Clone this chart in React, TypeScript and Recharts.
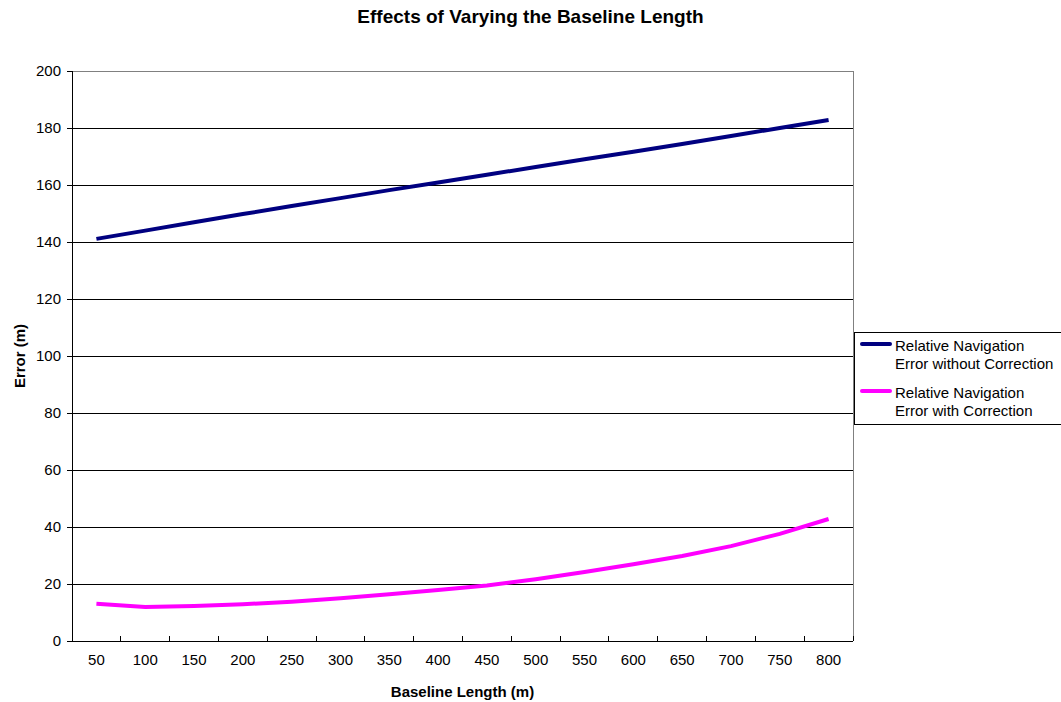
import React from "react";
import {
    LineChart,
    Line,
    XAxis,
    YAxis,
    CartesianGrid,
    ReferenceLine,
} from "recharts";

const baselines = [50, 100, 150, 200, 250, 300, 350, 400, 450, 500, 550, 600, 650, 700, 750, 800];
const withoutCorrection = [141.1, 144.0, 146.9, 149.8, 152.6, 155.4, 158.2, 160.9, 163.6, 166.3, 169.0, 171.7, 174.4, 177.2, 180.0, 182.8];
const withCorrection = [13.1, 11.9, 12.3, 12.9, 13.8, 15.0, 16.4, 17.9, 19.5, 21.7, 24.2, 26.9, 29.8, 33.3, 37.6, 42.8];
const yTicks = [0, 20, 40, 60, 80, 100, 120, 140, 160, 180, 200];

const seriesLabels = [
    ["Relative Navigation", "Error without Correction"],
    ["Relative Navigation", "Error with Correction"],
];
const seriesColors = ["#000080", "#FF00FF"];

const data = baselines.map((b, i) => ({
    baseline: b,
    without: withoutCorrection[i],
    with: withCorrection[i],
}));

const W = 1061;
const H = 702;
const PLOT_LEFT = 72;
const PLOT_RIGHT = 853;
const PLOT_TOP = 71;
const PLOT_BOTTOM = 641;
const FONT = "Arial, 'Liberation Sans', sans-serif";
const HALF_BAND = (PLOT_RIGHT - PLOT_LEFT) / baselines.length / 2;

// Excel-style category ticks: marks sit between categories, labels in the middle
function XTick(props: any) {
    const { x, y, payload, index } = props;
    const top = y - 13;
    const last = index === baselines.length - 1;
    return (
        <g>
            <line x1={x - HALF_BAND} x2={x - HALF_BAND} y1={top - 5} y2={top} stroke="#000" shapeRendering="crispEdges" />
            {last && <line x1={x + HALF_BAND} x2={x + HALF_BAND} y1={top - 5} y2={top} stroke="#000" shapeRendering="crispEdges" />}
            <text x={x} y={y} dy="0.71em" textAnchor="middle" fontSize={15} fontFamily={FONT} fill="#000">
                {payload.value}
            </text>
        </g>
    );
}

function LegendBox() {
    const entry = (i: number, top: number) => (
        <div key={i} style={{ position: "absolute", left: 5, top, display: "flex" }}>
            <div style={{ width: 32, height: 4, marginTop: 5, background: seriesColors[i], borderRadius: 2 }} />
            <div style={{ marginLeft: 3, fontSize: 15, lineHeight: "18px", fontFamily: FONT, color: "#000", whiteSpace: "nowrap" }}>
                {seriesLabels[i][0]}
                <br />
                {seriesLabels[i][1]}
            </div>
        </div>
    );
    return (
        <div style={{ position: "absolute", left: 854, top: 332, width: 215, height: 93, border: "1px solid #000", background: "#fff", boxSizing: "border-box" }}>
            {entry(0, 4)}
            {entry(1, 51)}
        </div>
    );
}

export default function App() {
    return (
        <div style={{ position: "absolute", left: 0, top: 0, width: W, height: H, overflow: "hidden", background: "#fff" }}>
            <LineChart
                width={W}
                height={H}
                data={data}
                margin={{ top: PLOT_TOP, right: W - PLOT_RIGHT, left: 12, bottom: H - PLOT_BOTTOM - 30 }}
                style={{ position: "absolute", left: 0, top: 0 }}
            >
                <CartesianGrid horizontal={true} vertical={false} stroke="#000" shapeRendering="crispEdges" />
                <XAxis
                    dataKey="baseline"
                    type="number"
                    domain={[25, 825]}
                    ticks={baselines}
                    interval={0}
                    height={30}
                    axisLine={{ stroke: "#000", shapeRendering: "crispEdges" }}
                    tickLine={false}
                    tickSize={0}
                    tickMargin={13}
                    tick={<XTick />}
                />
                <YAxis
                    type="number"
                    domain={[0, 200]}
                    ticks={yTicks}
                    interval={0}
                    width={60}
                    axisLine={{ stroke: "#000", shapeRendering: "crispEdges" }}
                    tickLine={{ stroke: "#000", shapeRendering: "crispEdges" }}
                    tickSize={5}
                    tickMargin={6}
                    tick={{ fontSize: 15, fontFamily: FONT, fill: "#000" }}
                />
                <ReferenceLine y={200} stroke="#808080" shapeRendering="crispEdges" />
                <ReferenceLine x={825} stroke="#808080" shapeRendering="crispEdges" />
                <Line
                    type="linear"
                    dataKey="without"
                    stroke={seriesColors[0]}
                    strokeWidth={4}
                    dot={false}
                    isAnimationActive={false}
                />
                <Line
                    type="linear"
                    dataKey="with"
                    stroke={seriesColors[1]}
                    strokeWidth={4}
                    dot={false}
                    isAnimationActive={false}
                />
            </LineChart>
            <div style={{ position: "absolute", left: 0, width: W, top: 7, lineHeight: "19px", textAlign: "center", fontFamily: FONT, fontWeight: "bold", fontSize: 19 }}>
                Effects of Varying the Baseline Length
            </div>
            <div style={{ position: "absolute", left: PLOT_LEFT, width: PLOT_RIGHT - PLOT_LEFT, top: 684, lineHeight: "15px", textAlign: "center", fontFamily: FONT, fontWeight: "bold", fontSize: 15 }}>
                Baseline Length (m)
            </div>
            <div style={{ position: "absolute", left: 19, top: 356, transform: "translate(-50%, -50%) rotate(-90deg)", whiteSpace: "nowrap", lineHeight: "15px", fontFamily: FONT, fontWeight: "bold", fontSize: 15 }}>
                Error (m)
            </div>
            <LegendBox />
        </div>
    );
}
